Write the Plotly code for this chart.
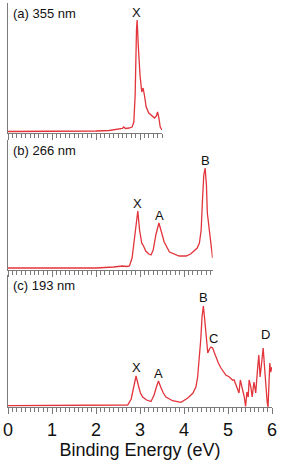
import plotly.graph_objects as go

# Panel (a) 355 nm
energy_a = [0, 1.0, 2.0, 2.3, 2.5, 2.6, 2.63, 2.67, 2.75, 2.82, 2.86, 2.89, 2.92, 2.935, 2.96,
            3.0, 3.04, 3.07, 3.1, 3.14, 3.2, 3.27, 3.33, 3.37, 3.40, 3.43, 3.46, 3.5]
intensity_a = [1.5, 1.5, 2, 2.5, 3.5, 4.5, 6, 4.5, 5, 6, 11, 38, 103, 113, 88,
               58, 41, 45, 38, 26, 20, 17, 15, 17, 21, 15, 6, 3]

# Panel (b) 266 nm
energy_b = [0, 1, 2, 2.4, 2.6, 2.7, 2.76, 2.82, 2.87, 2.91, 2.95, 2.99, 3.04, 3.08, 3.13, 3.2,
            3.25, 3.3, 3.36, 3.43, 3.48, 3.55, 3.67, 3.78, 3.89, 4.05, 4.15, 4.2, 4.3, 4.35,
            4.39, 4.42, 4.45, 4.48, 4.51, 4.53, 4.57, 4.62, 4.65]
intensity_b = [2, 2, 2, 3, 4, 3.5, 4, 12, 30, 50, 59, 40, 27, 24, 19, 16,
               15, 20, 35, 47, 40, 28, 18, 16, 14, 14, 16, 18, 22, 27,
               40, 70, 95, 102, 85, 57, 40, 20, 12]

# Panel (c) 193 nm
energy_c = [0, 2.0, 2.6, 2.72, 2.8, 2.86, 2.91, 2.96, 3.01, 3.06, 3.15, 3.25, 3.32, 3.38, 3.42,
            3.47, 3.53, 3.59, 3.74, 3.93, 4.08, 4.2, 4.27, 4.31, 4.35, 4.38, 4.41, 4.44, 4.47,
            4.5, 4.54, 4.58, 4.61, 4.65, 4.68, 4.72, 4.78, 4.84, 4.9, 4.95, 5.03, 5.1, 5.14,
            5.2, 5.25, 5.28, 5.33, 5.37, 5.4, 5.43, 5.46, 5.48, 5.52, 5.55, 5.59, 5.63, 5.67,
            5.7, 5.73, 5.76, 5.8, 5.83, 5.86, 5.89, 5.91, 5.93, 5.95, 5.97, 6.0]
intensity_c = [1.3, 1.3, 1.5, 2, 8, 20, 31, 22, 14, 10, 7, 5.5, 12, 21, 26,
               20, 14, 10, 6.3, 4.7, 8.7, 13.7, 20, 30, 50, 67, 90, 101, 88,
               74, 54, 58, 60, 59, 55, 50, 44, 39, 35, 32, 30, 27, 27,
               20, 14, 27, 17, 10, 0.5, 15, 10, 27, 20, 10, 25, 14, 37,
               52, 30, 45, 59, 40, 17, 5, 0, 20, 44, 35, 40]

panel_labels = ["(a) 355 nm", "(b) 266 nm", "(c) 193 nm"]
peak_labels_a = [("X", 2.93, 121)]
peak_labels_b = [("X", 2.95, 67), ("A", 3.45, 55), ("B", 4.48, 110)]
peak_labels_c = [("X", 2.93, 40), ("A", 3.43, 34), ("B", 4.44, 110), ("C", 4.68, 69), ("D", 5.86, 73)]

RED = "#e2343b"
AXIS = "#7a7a7a"
FONT = "Liberation Sans, Arial, sans-serif"

fig = go.Figure()
fig.add_trace(go.Scatter(x=energy_a, y=intensity_a, mode="lines", line=dict(color=RED, width=1.3),
                         xaxis="x", yaxis="y", showlegend=False))
fig.add_trace(go.Scatter(x=energy_b, y=intensity_b, mode="lines", line=dict(color=RED, width=1.3),
                         xaxis="x2", yaxis="y2", showlegend=False))
fig.add_trace(go.Scatter(x=energy_c, y=intensity_c, mode="lines", line=dict(color=RED, width=1.3),
                         xaxis="x3", yaxis="y3", showlegend=False))

H = 404.0
def dom(top_px, bot_px):
    return [(407 - bot_px) / H, (407 - top_px) / H]

def xax(rng, anchor, labels):
    return dict(range=rng, domain=[0, rng[1] / 6.0], anchor=anchor, showline=True, linecolor=AXIS,
                linewidth=1, ticks="outside", ticklen=6, tickcolor=AXIS, tickwidth=1,
                tick0=0, dtick=1, showgrid=False, zeroline=False, showticklabels=labels,
                automargin=False,
                minor=dict(ticks="outside", ticklen=4, dtick=0.1, tickcolor=AXIS, tickwidth=1, showgrid=False),
                tickfont=dict(family=FONT, size=18, color="#111"))

def yax(rng, d, anchor):
    return dict(range=rng, domain=d, anchor=anchor, showline=True, linecolor=AXIS, linewidth=1,
                ticks="", showticklabels=False, showgrid=False, zeroline=False, automargin=False)

fig.update_layout(
    width=283, height=462,
    margin=dict(l=8, r=11, t=3, b=55),
    plot_bgcolor="white", paper_bgcolor="white",
    xaxis=xax([0, 3.5], "y", False),
    xaxis2=xax([0, 4.65], "y2", False),
    xaxis3=xax([0, 6], "y3", True),
    yaxis=yax([0, 130], dom(3, 133), "x"),
    yaxis2=yax([0, 130], dom(140, 270), "x2"),
    yaxis3=yax([0, 132], dom(275, 407), "x3"),
)
fig.layout.xaxis3.title = dict(text="Binding Energy (eV)", font=dict(family=FONT, size=18, color="#111"),
                               standoff=3)

ann = []
for lab, yref_name in zip(panel_labels, ["y", "y2", "y3"]):
    xr = {"y": "x", "y2": "x2", "y3": "x3"}[yref_name]
    ann.append(dict(text=lab, x=0.06, y=0.99, xref=xr, yref=yref_name + " domain", xanchor="left",
                    yanchor="top", showarrow=False, font=dict(family=FONT, size=13, color="#111")))
for labels, xr, yr in [(peak_labels_a, "x", "y"), (peak_labels_b, "x2", "y2"), (peak_labels_c, "x3", "y3")]:
    for t, ex, iy in labels:
        ann.append(dict(text=t, x=ex, y=iy, xref=xr, yref=yr, showarrow=False,
                        font=dict(family=FONT, size=13, color="#111")))
fig.update_layout(annotations=ann)

fig.write_html("out.html", config={"displayModeBar": False},
               post_script="document.body.style.margin='0';document.body.style.overflow='hidden';")
